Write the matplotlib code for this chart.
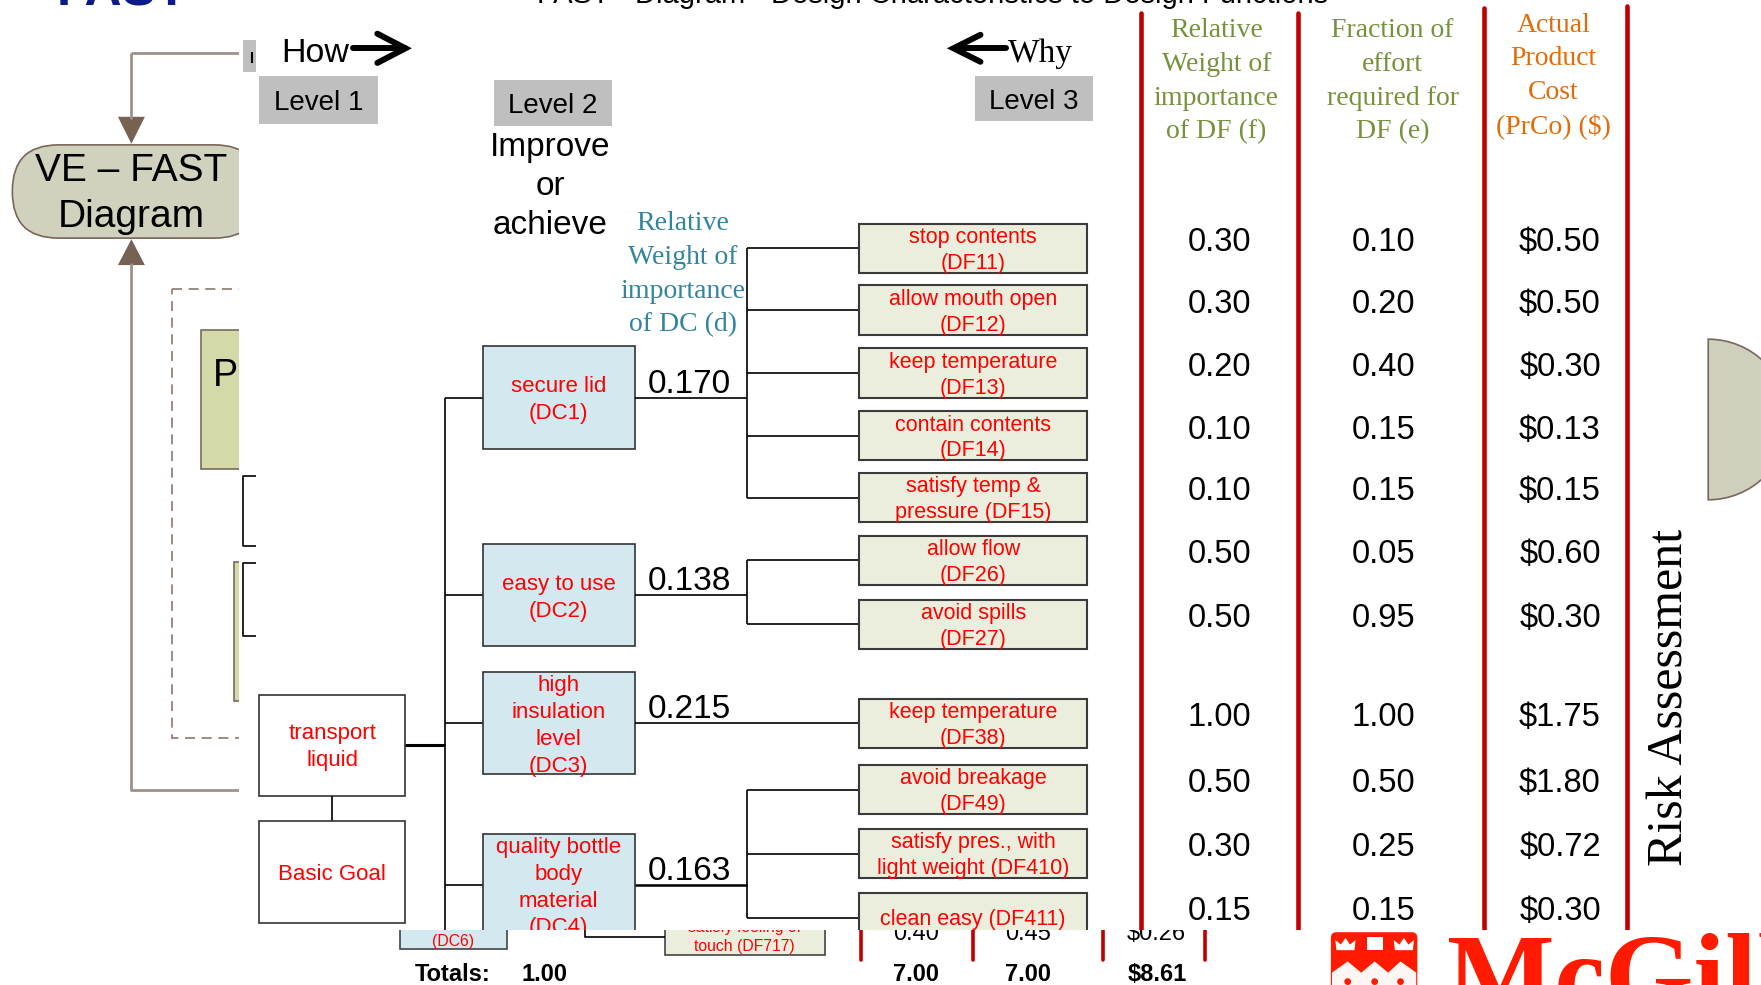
import matplotlib
matplotlib.use("Agg")
import matplotlib.pyplot as plt
from matplotlib.patches import Rectangle, FancyBboxPatch, Wedge, Polygon, Circle

# ---- data ----
# level 2: design characteristics and their relative weight d
dc_labels = ["secure lid\n(DC1)", "easy to use\n(DC2)",
             "high\ninsulation\nlevel\n(DC3)", "quality bottle\nbody\nmaterial\n(DC4)"]
dc_weights = [0.170, 0.138, 0.215, 0.163]

# level 3: design functions, parent DC, f, e and cost
df_labels = ["stop contents\n(DF11)", "allow mouth open\n(DF12)", "keep temperature\n(DF13)",
             "contain contents\n(DF14)", "satisfy temp &\npressure (DF15)", "allow flow\n(DF26)",
             "avoid spills\n(DF27)", "keep temperature\n(DF38)", "avoid breakage\n(DF49)",
             "satisfy pres., with\nlight weight (DF410)", "clean easy (DF411)"]
df_parent = [0, 0, 0, 0, 0, 1, 1, 2, 3, 3, 3]
df_f = [0.30, 0.30, 0.20, 0.10, 0.10, 0.50, 0.50, 1.00, 0.50, 0.30, 0.15]
df_e = [0.10, 0.20, 0.40, 0.15, 0.15, 0.05, 0.95, 1.00, 0.50, 0.25, 0.15]
df_cost = [0.50, 0.50, 0.30, 0.13, 0.15, 0.60, 0.30, 1.75, 1.80, 0.72, 0.30]

col_heads = ["Relative\nWeight of\nimportance\nof DF (f)",
             "Fraction of\neffort\nrequired for\nDF (e)",
             "Actual\nProduct\nCost\n(PrCo) ($)"]

# bottom strip (a row that is mostly cut off, then the totals)
cut_row = ["0.40", "0.45", "$0.26"]
total_d = "1.00"
totals = ["7.00", "7.00", "$8.61"]

# ---- layout (in pixels of a 1568 x 877 frame) ----
W, H, CUT = 1568, 877, 828
PT = 0.8086                      # points per frame pixel
SANS, SERIF = "Liberation Sans", "Liberation Serif"
RED, TEAL, OLIVE, ORANGE = "#ff0000", "#31859c", "#76923c", "#e36c09"
DC_FILL, DF_FILL, GREY = "#d3e9ef", "#ebeedd", "#bfbfbf"
LINE_RED, BROWN, BROWN_L = "#c00000", "#776152", "#a0908a"

dc_y = [354, 530, 644, 788]
DC_X0, DC_X1, DC_H = 430, 565, 91
df_y = [221, 276, 332, 388, 443, 499, 556, 644, 703, 760, 817]
DF_X0, DF_X1, DF_H = 765, 968, 44
TRUNK_X, BRANCH_X = 396, 665
col_x = [1086, 1232, 1389]
head_x = [1083, 1240, 1383]
head_top = [25, 25, 20]
red_x = [1016, 1156, 1321, 1449]
red_top = [12, 12, 7, 5]
strip_x = [816, 915, 1030]

fig = plt.figure(figsize=(17.61, 9.85), dpi=100)


def region(x0, y0, x1, y1):
    a = fig.add_axes([x0 / W, 1 - y1 / H, (x1 - x0) / W, (y1 - y0) / H])
    a.set_xlim(x0, x1)
    a.set_ylim(y1, y0)
    a.axis("off")
    return a


def put(a, x, y, s, size, color="black", family=SANS, cap=0.36, **kw):
    # y is the visual middle of the line
    em = size / PT
    a.text(x, y + cap * em, s, fontsize=size, color=color, family=family,
           va="baseline", ha=kw.pop("ha", "center"), clip_on=True, **kw)


def stack(a, x, yc, text, gap, size, **kw):
    lines = text.split("\n")
    n = len(lines)
    for i, s in enumerate(lines):
        put(a, x, yc + (i - (n - 1) / 2) * gap, s, size, **kw)


def box(a, x0, y0, x1, y1, fc, ec="#333333", lw=1.3, z=2):
    a.add_patch(Rectangle((x0, y0), x1 - x0, y1 - y0, fc=fc, ec=ec, lw=lw, zorder=z))


def seg(a, xs, ys, c="black", lw=1.2, **kw):
    a.plot(xs, ys, color=c, lw=lw, solid_capstyle="butt", **kw)


ax = region(0, 0, W, CUT)
axl = region(0, 0, 213, CUT)
axb = region(0, CUT, W, H)

# ---- top title (cut off by the frame) ----
put(ax, 50, 5 - 0.36 * 37 / PT, "FAST", 37, color="#0c1a8a", ha="left", weight="bold")
put(ax, 478, 2.5 - 0.36 * 21 / PT, "FAST - Diagram - Design Characteristics to Design Functions",
    21, ha="left")

# ---- left slide piece (clipped at x = 213) ----
seg(axl, [117, 213], [47, 47], c=BROWN_L, lw=2)
seg(axl, [117, 117], [47, 106], c=BROWN_L, lw=2)
axl.add_patch(Polygon([(105, 104), (129, 104), (117, 128)], fc=BROWN, ec="none"))
axl.add_patch(FancyBboxPatch((11, 129), 221, 83, boxstyle="round,pad=0,rounding_size=41",
                             fc="#d0d2bd", ec="#7a665a", lw=1.2))
put(axl, 117, 149, "VE \u2013 FAST", 28)
put(axl, 117, 190, "Diagram", 28)
axl.add_patch(Polygon([(105, 236), (129, 236), (117, 213)], fc=BROWN, ec="none"))
seg(axl, [117, 117], [234, 703], c=BROWN_L, lw=2)
seg(axl, [116, 213], [703, 703], c=BROWN_L, lw=2)
axl.add_patch(Rectangle((153, 257), 100, 400, fc="none", ec="#8a7870", lw=1.2, ls=(0, (6, 4))))
axl.add_patch(Rectangle((179, 294), 60, 124, fc="#d4d9a8", ec="#7a6a60", lw=1.2))
put(axl, 201, 332, "P", 27)
axl.add_patch(Rectangle((208, 500), 20, 124, fc="#d4d9a8", ec="#7a6a60", lw=1.2))

for y0, y1 in [(424, 486), (501, 566)]:
    seg(ax, [228, 216, 216, 228], [y0, y0, y1, y1], lw=1.2)
ax.add_patch(Rectangle((216, 36), 12, 28, fc=GREY, ec="none"))
seg(ax, [224, 224], [46, 56], lw=1.5)

# ---- how / why arrows and level tags ----
put(ax, 250, 44, "How", 24.5, ha="left")
ax.plot([314, 361], [43, 43], color="black", lw=4.3, solid_capstyle="round")
ax.plot([336, 361, 336], [30, 43, 56], color="black", lw=4.3,
        solid_capstyle="round", solid_joinstyle="miter")
ax.plot([850, 896], [43, 43], color="black", lw=4.3, solid_capstyle="round")
ax.plot([873, 849, 873], [31, 43, 55], color="black", lw=4.3,
        solid_capstyle="round", solid_joinstyle="miter")
put(ax, 897, 45, "Why", 24, family=SERIF, ha="left", cap=0.33)

for (x0, y0, x1, y1), s in [((231, 68, 337, 110), "Level 1"),
                            ((440, 71, 545, 112), "Level 2"),
                            ((868, 68, 973, 108), "Level 3")]:
    box(ax, x0, y0, x1, y1, GREY, ec="none")
    put(ax, (x0 + x1) / 2, (y0 + y1) / 2, s, 20)

stack(ax, 490, 163, "Improve\nor\nachieve", 35, 24)
stack(ax, 608, 242, "Relative\nWeight of\nimportance\nof DC (d)", 30, 20,
      color=TEAL, family=SERIF, cap=0.33)

# ---- level 1 ----
box(ax, 231, 619, 361, 709, "white", lw=1.2)
stack(ax, 296, 663, "transport\nliquid", 24, 16, color=RED)
seg(ax, [296, 296], [709, 731])
box(ax, 231, 731, 361, 822, "white", lw=1.2)
put(ax, 296, 776, "Basic Goal", 16, color=RED)
seg(ax, [361, TRUNK_X], [663, 663], lw=2.2)
seg(ax, [TRUNK_X, TRUNK_X], [dc_y[0], CUT + 5])

# ---- level 2 and 3 tree ----
for i, (lab, d, yc) in enumerate(zip(dc_labels, dc_weights, dc_y)):
    seg(ax, [TRUNK_X, DC_X0], [yc, yc])
    box(ax, DC_X0, yc - DC_H / 2, DC_X1, yc + DC_H / 2, DC_FILL, lw=1.2)
    stack(ax, (DC_X0 + DC_X1) / 2, yc, lab, 24, 16, color=RED)
    put(ax, 614, yc - 15, f"{d:.3f}", 24)
    kids = [df_y[k] for k, p in enumerate(df_parent) if p == i]
    if len(kids) == 1:
        seg(ax, [DC_X1, DF_X0], [kids[0], kids[0]])
    else:
        seg(ax, [DC_X1, BRANCH_X], [yc, yc], lw=1.8 if i == 3 else 1.2)
        seg(ax, [BRANCH_X, BRANCH_X], [min(kids), max(kids)])
        for ky in kids:
            seg(ax, [BRANCH_X, DF_X0], [ky, ky])

for lab, yc in zip(df_labels, df_y):
    box(ax, DF_X0, yc - DF_H / 2, DF_X1, yc + DF_H / 2, DF_FILL, ec="#3a3a3a", lw=1.5)
    stack(ax, (DF_X0 + DF_X1) / 2, yc, lab, 23, 15.5, color=RED)

# ---- table on the right ----
for x, top in zip(red_x, red_top):
    ax.plot([x, x], [top, CUT + 5], color=LINE_RED, lw=3.3, solid_capstyle="round")

for x, top, head, c in zip(head_x, head_top, col_heads, [OLIVE, OLIVE, ORANGE]):
    stack(ax, x, top + 45, head, 30, 20, color=c, family=SERIF, cap=0.33)

for f, e, cost, yc in zip(df_f, df_e, df_cost, df_y):
    put(ax, col_x[0], yc - 8, f"{f:.2f}", 23.5)
    put(ax, col_x[1], yc - 8, f"{e:.2f}", 23.5)
    put(ax, col_x[2], yc - 8, f"${cost:.2f}", 23.5)

ax.text(1498, 621, "Risk Assessment", fontsize=36, family=SERIF, rotation=90,
        rotation_mode="anchor", ha="center", va="baseline", clip_on=True)
ax.add_patch(Wedge((1521, 373.5), 71.5, -90, 90, fc="#cfd0bb", ec="#7a665a", lw=1.2))

# ---- bottom strip (another part of the slide) ----
axb.add_patch(Rectangle((356, 810), 95, 35, fc=DC_FILL, ec="#444444", lw=1.2))
put(axb, 403, 837, "(DC6)", 11.3, color=RED)
seg(axb, [521, 521, 592], [820, 834, 834])
axb.add_patch(Rectangle((592, 810), 143, 40, fc=DF_FILL, ec="#444444", lw=1.2))
stack(axb, 663, 833.5, "satisfy feeling of\ntouch (DF717)", 17, 11.3, color=RED)
for x in [767, 866, 982, 1073]:
    axb.plot([x, x], [820, 855], color=LINE_RED, lw=2.6, solid_capstyle="round")
for x, s in zip(strip_x, cut_row):
    axb.text(x, 837, s, fontsize=17, family=SANS, ha="center", va="baseline", clip_on=True)
put(axb, 403, 866, "Totals:", 17, weight="bold")
put(axb, 485, 866, total_d, 17, weight="bold")
for x, s in zip(strip_x, totals):
    put(axb, x, 866, s, 17, weight="bold")

# McGill logo (cut off at the bottom)
LOGO = "#ff1a00"
axb.add_patch(FancyBboxPatch((1185, 830), 77, 60, boxstyle="round,pad=0,rounding_size=5",
                             fc=LOGO, ec="none"))
axb.add_patch(Polygon([(1186, 866), (1200, 856), (1212, 866), (1224, 856), (1236, 866),
                       (1247, 856), (1261, 866), (1261, 880), (1186, 880)], fc="#fdf6f4", ec="none"))
for cx in [1200, 1224, 1247]:
    axb.add_patch(Circle((cx, 874), 3, fc=LOGO, ec="none"))
axb.add_patch(Rectangle((1217, 834), 14, 12, fc="white", ec="none"))
for cx in [1198, 1250]:
    axb.add_patch(Polygon([(cx - 8, 846), (cx + 8, 846), (cx + 9, 837), (cx + 4, 841),
                           (cx, 835), (cx - 4, 841), (cx - 9, 837)], fc="white", ec="none"))
axb.text(1288, 902, "McGill", fontsize=82, family=SERIF, weight="bold", color=LOGO,
         ha="left", va="baseline", clip_on=True)

fig.savefig("out.png", dpi=100)
